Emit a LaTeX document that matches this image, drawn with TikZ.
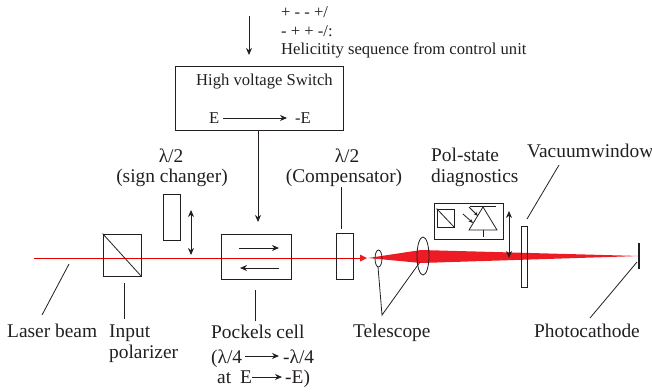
\documentclass[tikz,border=0pt]{standalone}
\usepackage{fontspec}
\setmainfont{Liberation Serif}
\usetikzlibrary{arrows.meta}
\definecolor{ink}{HTML}{231F20}
\definecolor{beamred}{HTML}{ED1C24}
\tikzset{
  lbl/.style={anchor=base west,inner sep=0pt,text=ink,font=\fontsize{19.4}{22}\selectfont},
  clbl/.style={anchor=base,inner sep=0pt,text=ink,font=\fontsize{19.4}{22}\selectfont},
  tlbl/.style={anchor=base west,inner sep=0pt,text=ink,font=\fontsize{16.6}{19}\selectfont},
  part/.style={draw=ink,line width=0.8pt,inner sep=0pt,fill=none},
  conn/.style={draw=ink,line width=0.8pt},
  arr/.style={conn,-{Stealth[length=7pt,width=6pt]}},
  darr/.style={conn,{Stealth[length=7pt,width=6pt]}-{Stealth[length=7pt,width=6pt]}},
  beamline/.style={draw=red!90!black,line width=0.8pt},
}
\newcommand{\bx}[6]{\node[part,minimum width=#4 pt-#2 pt,minimum height=#5 pt-#3 pt] (#1) at ({(#2+#4)/2},{(#3+#5)/2}) {#6};}
\begin{document}
\begin{tikzpicture}[x=1pt,y=-1pt]
\useasboundingbox (0,0) rectangle (652,391);
% beam
\coordinate (bs) at (34,258);
\coordinate (be) at (362,258);
\coordinate (tip) at (640,256);
\coordinate (bstart) at (368,258);
\coordinate (bup) at (421,250);
\coordinate (blo) at (421,263);
\draw[beamline] (bs) -- (be);
\fill[beamred] (bstart) -- (bup) -- (tip) -- (blo) -- cycle;
\fill[beamred] (360,254.5) -- (367,258) -- (360,261.5) -- cycle;
% boxes
\bx{hv}{175}{66}{343}{130}{}
\bx{sign}{163}{194}{180}{240}{}
\bx{pol}{103}{234}{141}{276}{}
\bx{pc}{221}{234}{291}{279}{}
\bx{comp}{336}{233}{353}{279}{}
\bx{vac}{521}{226}{527}{287}{}
\bx{diag}{434}{203}{503}{239}{}
\bx{sq}{437}{209}{454}{227}{}
% top
\coordinate (in) at (249,16);
\draw[arr] (in) -- (249,55);
\node[tlbl] (t1) at (281,17) {+ - - +/};
\node[tlbl] (t2) at (281,36) {- + + -/:};
\node[tlbl] (t3) at (281,54) {Helicitity sequence from control unit};
\node[tlbl] (hvt) at (196,85) {High voltage Switch};
\node[tlbl] (e1) at (209,123) {E};
\node[tlbl] (e2) at (295,123) {-E};
\draw[arr] (223,118) -- (287,118);
\draw[arr] (hv.south -| 258,0) -- (258,222);
% sign
\node[clbl] (l1) at (171,162) {λ/2};
\node[clbl] (l2) at (172,182) {(sign changer)};
\draw[darr] (191,210) -- (191,255);
\draw[conn] (pol.north west) -- (pol.south east);
\draw[conn] (69,264) -- (42,315);
\draw[conn] (124,283) -- (124,319);
% pockels
\draw[arr] (239,248) -- (279,248);
\draw[arr] (279,268) -- (240,268);
\draw[conn] (255,290) -- (255,321);
\node[lbl] (lb) at (7,337) {Laser beam};
\node[lbl] (ip) at (109,337) {Input};
\node[lbl] (ip2) at (109,358) {polarizer};
\node[lbl] (pk) at (211,338) {Pockels cell};
\node[lbl] (pk2) at (211,363) {(λ/4};
\node[lbl] (pk3) at (283,363) {-λ/4};
\draw[arr] (245,356) -- (279,356);
\node[lbl] (pk4) at (217,383) {at};
\node[lbl] (pk5) at (240,383) {E};
\node[lbl] (pk6) at (285,383) {-E)};
\draw[arr] (252,377) -- (282,377);
% compensator
\node[clbl] (c1) at (347,162) {λ/2};
\node[clbl] (c2) at (344,182) {(Compensator)};
\draw[conn] (341,187) -- (341,229);
% lenses
\draw[conn] (378.5,258.5) ellipse [x radius=3.5,y radius=8.5];
\draw[conn] (423,256) ellipse [x radius=6,y radius=19];
\coordinate (tl) at (382,315);
\draw[conn] (378,267) -- (tl) -- (420,262);
\node[lbl] (tel) at (353,337) {Telescope};
% diagnostics
\node[lbl] (ps) at (431,161) {Pol-state};
\node[lbl] (ps2) at (431,182) {diagnostics};
\draw[conn] (sq.north west) -- (sq.south east);
\draw[conn] (483,207) -- (469,230) -- (497,230) -- cycle;
\draw[conn] (470,206) -- (496,206);
\draw[conn] (483,230) -- (483,237);
\draw[conn,-{Stealth[length=4.5pt,width=3.5pt]}] (469,207) -- (478,216);
\draw[conn,-{Stealth[length=4.5pt,width=3.5pt]}] (463,214) -- (473,223);
\draw[darr] (509,211) -- (509,258);
% vacuum and cathode
\node[lbl] (vw) at (527,157) {Vacuumwindow};
\draw[conn] (559,165) -- (527,219);
\draw[draw=ink,line width=1.1pt] (639,243) -- (639,269);
\draw[conn] (637,262) -- (590,318);
\node[lbl] (ph) at (534,337) {Photocathode};
\end{tikzpicture}
\end{document}
